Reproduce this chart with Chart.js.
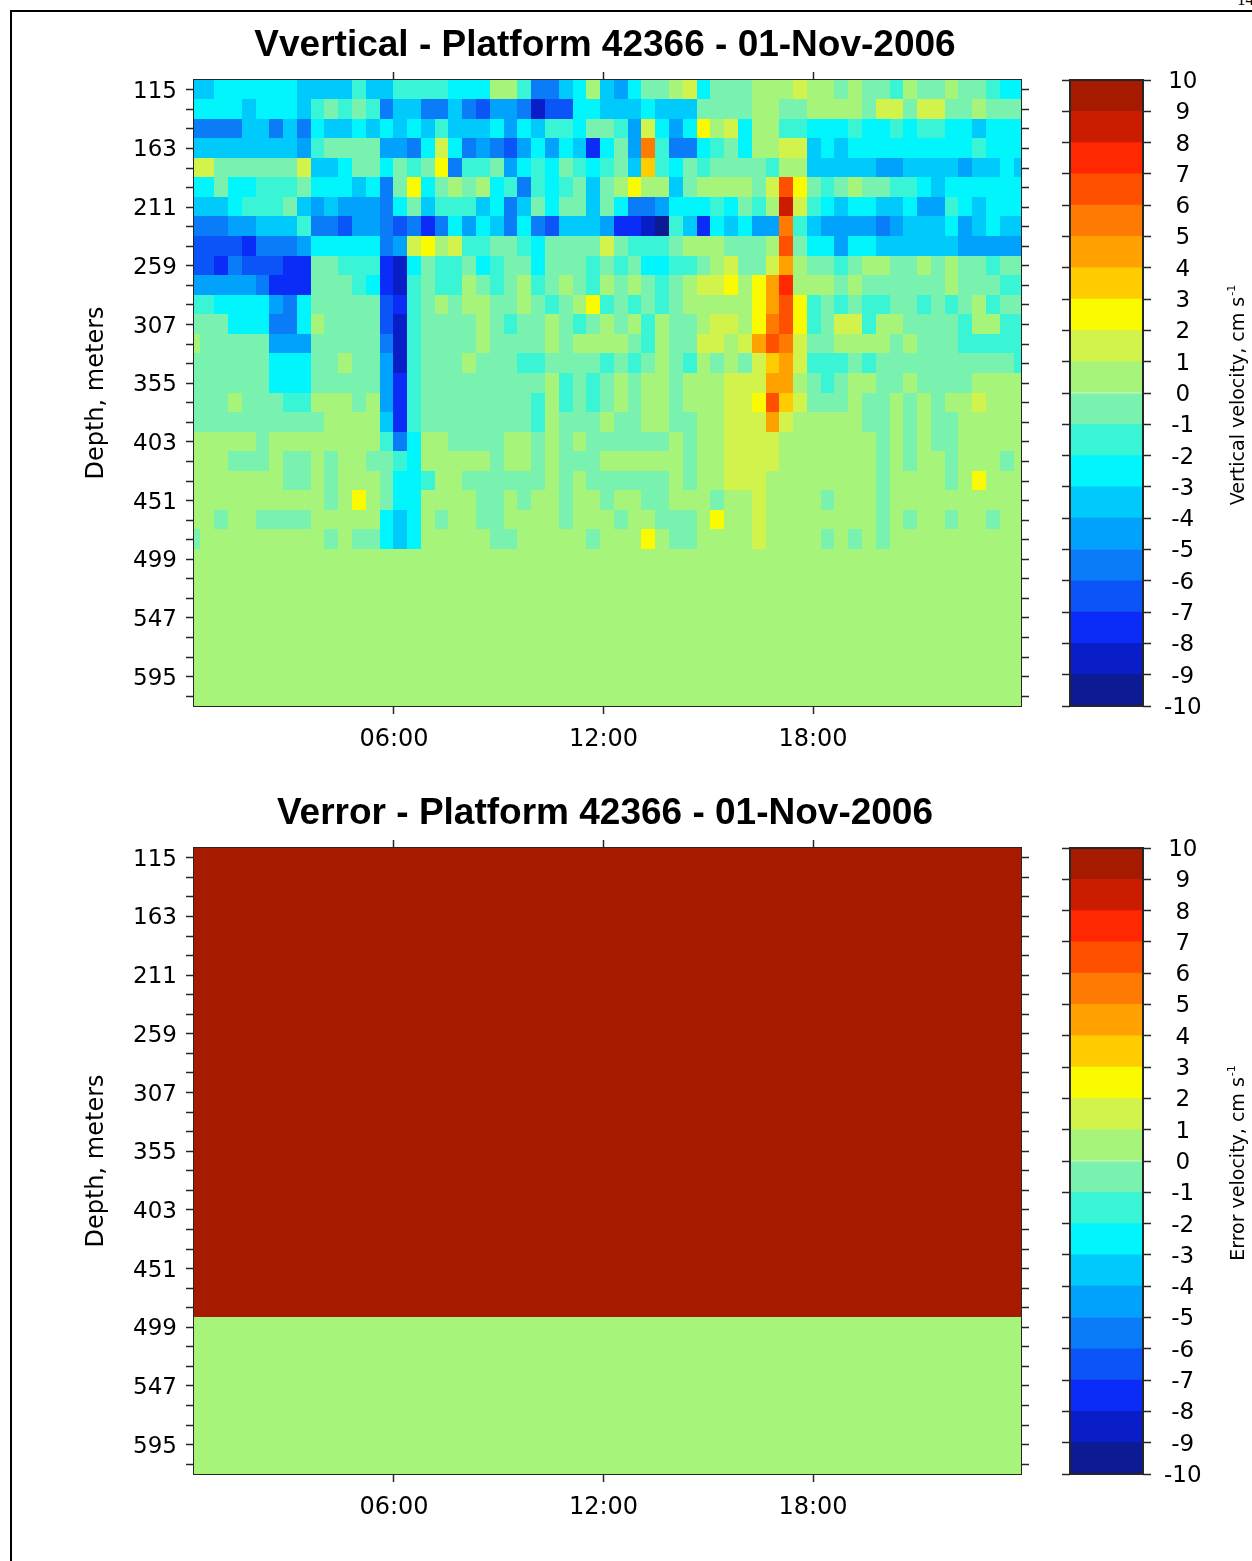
<!DOCTYPE html>
<html>
<head>
<meta charset="utf-8">
<title>Vvertical / Verror - Platform 42366 - 01-Nov-2006</title>
<script src="https://cdn.jsdelivr.net/npm/chart.js@4.4.1/dist/chart.umd.min.js"></script>
<style>
  body { margin: 0; background: #fff; }
  #page { position: relative; width: 1252px; height: 1561px; overflow: hidden; background: #fff; }
  #frame { position: absolute; left: 10px; top: 10px; width: 1400px; height: 1700px;
           border-left: 2px solid #000; border-top: 2px solid #000; }
  #pageNum { position: absolute; left: 1237px; top: -10px; font: 17px "Liberation Serif", serif; }
  canvas { position: absolute; }
</style>
</head>
<body>
<div id="page">
  <div id="frame"></div>
  <div id="pageNum">14</div>
  <canvas id="vverticalChart" width="1210" height="768" style="left:0;top:0"></canvas>
  <canvas id="vverticalBar" width="202" height="768" style="left:1050px;top:0"></canvas>
  <canvas id="verrorChart" width="1210" height="768" style="left:0;top:768px"></canvas>
  <canvas id="verrorBar" width="202" height="768" style="left:1050px;top:768px"></canvas>
</div>

<script>
// Depth bins (m), 16 m apart, and the labelled ticks
const depths = [115, 131, 147, 163, 179, 195, 211, 227, 243, 259, 275, 291, 307, 323, 339, 355,
                371, 387, 403, 419, 435, 451, 467, 483, 499, 515, 531, 547, 563, 579, 595, 611];
const depthTickLabels = [115, 163, 211, 259, 307, 355, 403, 451, 499, 547, 595];
const depthBin = 16;

// Time axis (hours of 01-Nov-2006)
const firstSampleHour = 0.273;
const sampleStepHours = 0.3947;
const timeTickHours = [6, 12, 18];
const timeTickLabels = ["06:00", "12:00", "18:00"];

// Colour scale: one colour per 1 cm/s band from -10 to 10
const levelMin = -10;
const levelTicks = [-10, -9, -8, -7, -6, -5, -4, -3, -2, -1, 0, 1, 2, 3, 4, 5, 6, 7, 8, 9, 10];
const levelColors = [
    "#0c1a94", "#0a1ec8", "#0a2cf6", "#0a54f8", "#0a7cf8",
    "#00a2fc", "#00cafc", "#00f6fc", "#3af4d6", "#78f2ae",
    "#a6f47a", "#d2f24c", "#fafa00", "#ffcc00", "#ffa200",
    "#ff7a00", "#ff5000", "#ff2800", "#cc1c00", "#a61a00"
];

// Vertical velocity (cm/s), one row per depth bin from 115 m to 483 m, 61 ensembles each
const vverticalRows = [
    // 115
    [-3.5,-3.5,-2.5,-2.5,-2.5,-2.5,-2.5,-2.5,-3.5,-3.5,-3.5,-3.5,-1.5,-3.5,-3.5,-1.5,-1.5,-1.5,-1.5,-2.5,
     -2.5,-2.5,0.5,0.5,-1.5,-5.5,-5.5,-3.5,-2.5,0.5,-3.5,-4.5,-2.5,-0.5,-0.5,0.5,1.5,-2.5,-0.5,-0.5,
     -0.5,0.5,0.5,0.5,1.5,0.5,0.5,-0.5,0.5,-0.5,-0.5,-1.5,0.5,-0.5,-0.5,0.5,-0.5,-0.5,-1.5,-2.5,-2.5],
    // 131
    [-2.5,-2.5,-2.5,-2.5,-3.5,-2.5,-2.5,-2.5,-3.5,-1.5,-0.5,-1.5,-0.5,-1.5,-5.5,-3.5,-3.5,-5.5,-5.5,-3.5,
     -5.5,-6.5,-4.5,-4.5,-5.5,-8.5,-6.5,-6.5,-2.5,-2.5,-3.5,-3.5,-3.5,-2.5,-3.5,-3.5,-3.5,-0.5,-0.5,-0.5,
     -0.5,0.5,0.5,-0.5,-0.5,0.5,0.5,0.5,0.5,-0.5,1.5,1.5,-0.5,1.5,1.5,-0.5,-0.5,0.5,-0.5,-0.5,-0.5],
    // 147
    [-5.5,-5.5,-5.5,-5.5,-3.5,-3.5,-5.5,-3.5,-5.5,-2.5,-3.5,-3.5,-2.5,-3.5,-2.5,-3.5,-2.5,-3.5,-1.5,-3.5,
     -3.5,-3.5,-2.5,-4.5,-2.5,-3.5,-1.5,-1.5,-2.5,-0.5,-0.5,-1.5,-4.5,1.5,-2.5,-4.5,-2.5,2.5,0.5,1.5,
     -2.5,0.5,0.5,-1.5,-1.5,-2.5,-2.5,-2.5,-1.5,-2.5,-2.5,-1.5,-2.5,-1.5,-1.5,-2.5,-2.5,-3.5,-2.5,-2.5,-2.5],
    // 163
    [-3.5,-3.5,-3.5,-3.5,-3.5,-3.5,-3.5,-3.5,-4.5,-1.5,-0.5,-0.5,-0.5,-0.5,-4.5,-4.5,-5.5,-2.5,1.5,-2.5,
     -5.5,-4.5,-5.5,-6.5,-4.5,-2.5,-4.5,-2.5,-3.5,-7.5,-2.5,-0.5,-4.5,5.5,-1.5,-5.5,-5.5,-2.5,-1.5,-0.5,
     -2.5,0.5,0.5,1.5,1.5,-3.5,-2.5,-3.5,-2.5,-2.5,-2.5,-2.5,-2.5,-2.5,-2.5,-2.5,-2.5,-1.5,-2.5,-2.5,-2.5],
    // 179
    [1.5,1.5,-0.5,-0.5,-0.5,-0.5,-0.5,-0.5,1.5,-3.5,-3.5,-2.5,-0.5,-0.5,-2.5,-0.5,-1.5,-0.5,2.5,-5.5,
     -1.5,-1.5,-0.5,-4.5,-2.5,-1.5,-2.5,-0.5,-1.5,-2.5,-1.5,-0.5,-3.5,3.5,-1.5,-2.5,-0.5,-1.5,-0.5,-0.5,
     -0.5,-0.5,-1.5,0.5,0.5,-3.5,-3.5,-3.5,-3.5,-3.5,-4.5,-4.5,-3.5,-3.5,-3.5,-3.5,-4.5,-3.5,-3.5,-2.5,-3.5],
    // 195
    [-2.5,-2.5,-0.5,-2.5,-2.5,-1.5,-1.5,-1.5,-0.5,-2.5,-2.5,-2.5,-3.5,-2.5,-5.5,-0.5,2.5,-2.5,-0.5,0.5,
     -0.5,0.5,-2.5,-1.5,-5.5,-1.5,-2.5,-1.5,-0.5,-3.5,-0.5,0.5,2.5,0.5,0.5,-3.5,-0.5,0.5,0.5,0.5,
     0.5,-0.5,1.5,6.5,2.5,-0.5,-1.5,-0.5,0.5,-0.5,-0.5,-1.5,-1.5,-2.5,-3.5,-2.5,-2.5,-2.5,-2.5,-2.5,-2.5],
    // 211
    [-3.5,-3.5,-3.5,-2.5,-1.5,-1.5,-1.5,-0.5,-3.5,-4.5,-3.5,-4.5,-4.5,-4.5,-5.5,-2.5,-0.5,-3.5,-1.5,-1.5,
     -1.5,-3.5,-2.5,-5.5,-3.5,-0.5,-2.5,-0.5,-0.5,-3.5,-0.5,-2.5,-5.5,-5.5,-4.5,-2.5,-2.5,-2.5,-1.5,-2.5,
     -0.5,-1.5,0.5,8.5,1.5,-1.5,-2.5,-3.5,-2.5,-2.5,-3.5,-3.5,-2.5,-4.5,-4.5,-1.5,-2.5,-3.5,-2.5,-2.5,-2.5],
    // 227
    [-5.5,-5.5,-5.5,-4.5,-4.5,-3.5,-3.5,-3.5,-1.5,-5.5,-5.5,-6.5,-4.5,-4.5,-5.5,-6.5,-5.5,-7.5,-5.5,-2.5,
     -4.5,-2.5,-3.5,-5.5,-2.5,-5.5,-6.5,-3.5,-3.5,-3.5,-4.5,-7.5,-7.5,-8.5,-9.5,-1.5,-3.5,-7.5,-2.5,-3.5,
     -2.5,-4.5,-4.5,5.5,-1.5,-3.5,-4.5,-4.5,-4.5,-4.5,-5.5,-4.5,-3.5,-3.5,-3.5,-2.5,-4.5,-3.5,-2.5,-3.5,-3.5],
    // 243
    [-6.5,-6.5,-6.5,-6.5,-7.5,-5.5,-5.5,-5.5,-4.5,-2.5,-2.5,-2.5,-2.5,-2.5,-5.5,-4.5,1.5,2.5,0.5,1.5,
     -1.5,-1.5,-0.5,-0.5,-1.5,-2.5,-0.5,-0.5,-0.5,-0.5,1.5,-0.5,-1.5,-1.5,-1.5,-0.5,0.5,0.5,0.5,-0.5,
     -0.5,-0.5,0.5,6.5,-0.5,-2.5,-2.5,-4.5,-2.5,-2.5,-3.5,-3.5,-3.5,-3.5,-3.5,-3.5,-4.5,-4.5,-4.5,-4.5,-4.5],
    // 259
    [-6.5,-6.5,-7.5,-5.5,-6.5,-6.5,-6.5,-7.5,-7.5,-0.5,-0.5,-1.5,-1.5,-1.5,-7.5,-8.5,-2.5,-0.5,-1.5,-1.5,
     -0.5,-2.5,-1.5,-0.5,-0.5,-2.5,-0.5,-0.5,-0.5,-1.5,-0.5,-1.5,-0.5,-2.5,-2.5,-1.5,-1.5,-0.5,0.5,1.5,
     -0.5,-0.5,1.5,4.5,0.5,-0.5,-0.5,-1.5,-0.5,0.5,0.5,-0.5,-0.5,0.5,-0.5,0.5,-0.5,-0.5,-1.5,-0.5,-0.5],
    // 275
    [-4.5,-4.5,-4.5,-4.5,-4.5,-5.5,-7.5,-7.5,-7.5,-0.5,-0.5,-0.5,-1.5,-2.5,-7.5,-8.5,-1.5,-0.5,-1.5,-1.5,
     0.5,-0.5,-1.5,-0.5,0.5,-1.5,-0.5,0.5,-0.5,-1.5,0.5,-0.5,0.5,-0.5,-1.5,-0.5,0.5,1.5,1.5,2.5,
     0.5,2.5,4.5,7.5,0.5,0.5,0.5,-0.5,0.5,-0.5,-0.5,-0.5,-0.5,-0.5,-0.5,0.5,-0.5,-0.5,-0.5,-1.5,-1.5],
    // 291
    [-1.5,-1.5,-2.5,-2.5,-2.5,-2.5,-4.5,-5.5,-2.5,-0.5,-0.5,-0.5,-0.5,-0.5,-6.5,-7.5,-1.5,-0.5,0.5,-0.5,
     0.5,0.5,-0.5,-0.5,0.5,-0.5,-1.5,-0.5,0.5,2.5,-1.5,-0.5,-1.5,-0.5,-1.5,-0.5,0.5,0.5,0.5,0.5,
     0.5,2.5,4.5,6.5,2.5,-1.5,-0.5,-1.5,-0.5,-1.5,-1.5,-0.5,-0.5,-1.5,-0.5,-1.5,-0.5,0.5,-1.5,-0.5,-0.5],
    // 307
    [-0.5,-0.5,-0.5,-2.5,-2.5,-2.5,-5.5,-5.5,-2.5,0.5,-0.5,-0.5,-0.5,-0.5,-6.5,-8.5,-1.5,-0.5,-0.5,-0.5,
     -0.5,0.5,-0.5,-1.5,-0.5,-0.5,0.5,-0.5,-1.5,-0.5,0.5,-0.5,0.5,-1.5,0.5,-0.5,-0.5,0.5,1.5,1.5,
     0.5,2.5,5.5,6.5,2.5,-1.5,-0.5,1.5,1.5,-1.5,0.5,0.5,-0.5,-0.5,-0.5,-0.5,-1.5,0.5,0.5,-1.5,-1.5],
    // 323
    [0.5,-0.5,-0.5,-0.5,-0.5,-0.5,-4.5,-4.5,-4.5,-0.5,-0.5,-0.5,-0.5,-0.5,-5.5,-8.5,-1.5,-0.5,-0.5,-0.5,
     -0.5,0.5,-0.5,-0.5,-0.5,-0.5,0.5,-0.5,0.5,0.5,0.5,0.5,-0.5,-1.5,0.5,-0.5,-0.5,1.5,1.5,0.5,
     1.5,4.5,6.5,5.5,1.5,-0.5,-0.5,0.5,0.5,0.5,0.5,-0.5,0.5,-0.5,-0.5,-0.5,-1.5,-1.5,-1.5,-1.5,-1.5],
    // 339
    [-0.5,-0.5,-0.5,-0.5,-0.5,-0.5,-2.5,-2.5,-2.5,-0.5,-0.5,0.5,-0.5,-0.5,-4.5,-8.5,-1.5,-0.5,-0.5,-0.5,
     0.5,-0.5,-0.5,-0.5,-1.5,-1.5,-0.5,-0.5,-0.5,-0.5,-1.5,-0.5,-1.5,-0.5,0.5,-0.5,-1.5,0.5,-0.5,0.5,
     -0.5,1.5,3.5,4.5,1.5,-1.5,-1.5,-1.5,-0.5,-1.5,-0.5,-0.5,-0.5,-0.5,-0.5,-0.5,-0.5,-0.5,-0.5,-0.5,-1.5],
    // 355
    [-0.5,-0.5,-0.5,-0.5,-0.5,-0.5,-2.5,-2.5,-2.5,-0.5,-0.5,-0.5,-0.5,-0.5,-4.5,-7.5,-1.5,-0.5,-0.5,-0.5,
     -0.5,-0.5,-0.5,-0.5,-0.5,-0.5,0.5,-1.5,-0.5,-1.5,-0.5,0.5,-0.5,0.5,0.5,-0.5,0.5,0.5,0.5,1.5,
     1.5,1.5,4.5,4.5,0.5,-0.5,-1.5,-0.5,0.5,0.5,-0.5,-0.5,0.5,-0.5,-0.5,-0.5,-0.5,0.5,0.5,0.5,0.5],
    // 371
    [-0.5,-0.5,-0.5,0.5,-0.5,-0.5,-0.5,-1.5,-1.5,0.5,0.5,0.5,-0.5,0.5,-4.5,-7.5,-1.5,-0.5,-0.5,-0.5,
     -0.5,-0.5,-0.5,-0.5,-0.5,-1.5,0.5,-1.5,-0.5,-1.5,-0.5,0.5,-0.5,0.5,0.5,-0.5,0.5,0.5,0.5,1.5,
     1.5,2.5,6.5,3.5,1.5,-0.5,-0.5,-0.5,0.5,-0.5,-0.5,0.5,-0.5,0.5,-0.5,0.5,0.5,1.5,0.5,0.5,0.5],
    // 387
    [-0.5,-0.5,-0.5,-0.5,-0.5,-0.5,-0.5,-0.5,-0.5,-0.5,0.5,0.5,0.5,0.5,-3.5,-7.5,-1.5,-0.5,-0.5,-0.5,
     -0.5,-0.5,-0.5,-0.5,-0.5,-1.5,0.5,-0.5,-0.5,-0.5,0.5,-0.5,-0.5,0.5,0.5,-0.5,-0.5,0.5,0.5,1.5,
     1.5,1.5,4.5,1.5,0.5,0.5,0.5,0.5,0.5,-0.5,-0.5,0.5,-0.5,0.5,-0.5,-0.5,0.5,0.5,0.5,0.5,0.5],
    // 403
    [0.5,0.5,0.5,0.5,0.5,-0.5,0.5,0.5,0.5,0.5,0.5,0.5,0.5,0.5,-1.5,-5.5,-2.5,0.5,0.5,-0.5,
     -0.5,-0.5,-0.5,0.5,0.5,-0.5,0.5,-0.5,0.5,-0.5,-0.5,-0.5,-0.5,-0.5,-0.5,0.5,-0.5,0.5,0.5,1.5,
     1.5,1.5,1.5,0.5,0.5,0.5,0.5,0.5,0.5,0.5,-0.5,0.5,-0.5,0.5,-0.5,-0.5,0.5,0.5,0.5,0.5,0.5],
    // 419
    [0.5,0.5,0.5,-0.5,-0.5,-0.5,0.5,-0.5,-0.5,0.5,-0.5,0.5,0.5,-0.5,-0.5,-1.5,-2.5,0.5,0.5,0.5,
     0.5,0.5,-0.5,0.5,0.5,-0.5,0.5,-0.5,-0.5,-0.5,0.5,0.5,0.5,0.5,0.5,0.5,-0.5,0.5,0.5,1.5,
     1.5,1.5,1.5,0.5,0.5,0.5,0.5,0.5,0.5,0.5,-0.5,0.5,-0.5,0.5,0.5,-0.5,0.5,0.5,0.5,-0.5,0.5],
    // 435
    [0.5,0.5,0.5,0.5,0.5,0.5,0.5,-0.5,-0.5,0.5,-0.5,0.5,0.5,0.5,-0.5,-2.5,-2.5,-1.5,0.5,0.5,
     -0.5,-0.5,-0.5,-0.5,-0.5,-0.5,0.5,-0.5,0.5,-0.5,-0.5,-0.5,-0.5,-0.5,-0.5,0.5,-0.5,0.5,0.5,1.5,
     1.5,1.5,0.5,0.5,0.5,0.5,0.5,0.5,0.5,0.5,-0.5,0.5,0.5,0.5,0.5,-0.5,0.5,2.5,0.5,0.5,0.5],
    // 451
    [0.5,0.5,0.5,0.5,0.5,0.5,0.5,0.5,0.5,0.5,-0.5,0.5,2.5,0.5,-0.5,-2.5,-2.5,0.5,0.5,0.5,
     0.5,-0.5,-0.5,0.5,-0.5,0.5,0.5,-0.5,0.5,0.5,-0.5,0.5,0.5,-0.5,-0.5,0.5,0.5,0.5,-0.5,0.5,
     0.5,1.5,0.5,0.5,0.5,0.5,-0.5,0.5,0.5,0.5,-0.5,0.5,0.5,0.5,0.5,0.5,0.5,0.5,0.5,0.5,0.5],
    // 467
    [0.5,0.5,-0.5,0.5,0.5,-0.5,-0.5,-0.5,-0.5,0.5,0.5,0.5,0.5,0.5,-2.5,-3.5,-2.5,0.5,-0.5,0.5,
     0.5,-0.5,-0.5,0.5,0.5,0.5,0.5,-0.5,0.5,0.5,0.5,-0.5,0.5,0.5,-0.5,-0.5,-0.5,0.5,2.5,0.5,
     0.5,1.5,0.5,0.5,0.5,0.5,0.5,0.5,0.5,0.5,-0.5,0.5,-0.5,0.5,0.5,-0.5,0.5,0.5,-0.5,0.5,0.5],
    // 483
    [-0.5,0.5,0.5,0.5,0.5,0.5,0.5,0.5,0.5,0.5,-0.5,0.5,-0.5,-0.5,-2.5,-3.5,-2.5,0.5,0.5,0.5,
     0.5,0.5,-0.5,-0.5,0.5,0.5,0.5,0.5,0.5,-0.5,0.5,0.5,0.5,2.5,0.5,-0.5,-0.5,0.5,0.5,0.5,
     0.5,1.5,0.5,0.5,0.5,0.5,-0.5,0.5,-0.5,0.5,-0.5,0.5,0.5,0.5,0.5,0.5,0.5,0.5,0.5,0.5,0.5]
];

// Error velocity: every valid bin is at or above the top of the scale
const lastValidDepth = 483;
const verrorSaturated = 10;
// Bins below the last valid depth are drawn in the 0..1 colour in both panels
const belowRangeValue = 0.5;

const times = vverticalRows[0].map((_, k) => firstSampleHour + k * sampleStepHours);

const vverticalGrid = depths.map((d, r) =>
    d <= lastValidDepth ? vverticalRows[r] : times.map(() => belowRangeValue));
const verrorGrid = depths.map(d =>
    times.map(() => (d <= lastValidDepth ? verrorSaturated : belowRangeValue)));

const TEXT_FONT = "'DejaVu Sans', sans-serif";
const TITLE_FONT = "'Liberation Sans', Arial, sans-serif";
const AXIS_COLOR = "#262626";

function levelColor(v) {
    const i = Math.min(levelColors.length - 1, Math.max(0, Math.floor(v - levelMin)));
    return levelColors[i];
}

// Draws the gridded cells through the chart's own x and y scales
function heatmapLayer(grid) {
    return {
        id: "heatmapLayer",
        beforeDatasetsDraw(chart) {
            const { ctx, chartArea: area, scales: { x, y } } = chart;
            ctx.save();
            ctx.beginPath();
            ctx.rect(area.left, area.top, area.right - area.left, area.bottom - area.top);
            ctx.clip();
            grid.forEach((row, r) => {
                const top = Math.floor(y.getPixelForValue(depths[r] - depthBin / 2));
                const bottom = Math.ceil(y.getPixelForValue(depths[r] + depthBin / 2));
                row.forEach((v, k) => {
                    const left = Math.floor(x.getPixelForValue(times[k] - sampleStepHours / 2));
                    const right = Math.ceil(x.getPixelForValue(times[k] + sampleStepHours / 2));
                    ctx.fillStyle = levelColor(v);
                    ctx.fillRect(left, top, right - left, bottom - top);
                });
            });
            ctx.restore();
        }
    };
}

function tickGrid() {
    return { drawOnChartArea: false, drawTicks: true, tickLength: 8, tickColor: AXIS_COLOR, tickWidth: 1.5 };
}

function panelChart(canvasId, title, grid) {
    const xMin = times[0];
    const xMax = times[times.length - 1];
    const yMin = depths[0] - depthBin / 2;
    const yMax = depths[depths.length - 1] + depthBin / 2;
    const border = { display: true, color: AXIS_COLOR, width: 2 };

    return new Chart(document.getElementById(canvasId), {
        type: "scatter",
        data: { datasets: [] },
        plugins: [heatmapLayer(grid)],
        options: {
            responsive: false,
            animation: false,
            devicePixelRatio: 1,
            layout: { padding: 0 },
            plugins: {
                legend: { display: false },
                tooltip: { enabled: false },
                title: {
                    display: true,
                    text: title,
                    color: "#000",
                    font: { family: TITLE_FONT, size: 37, weight: "bold", lineHeight: 1 },
                    padding: { top: 27, bottom: 0 }
                }
            },
            scales: {
                x: {
                    type: "linear", axis: "x", position: "bottom", min: xMin, max: xMax, z: 1,
                    afterBuildTicks: s => { s.ticks = timeTickHours.map(v => ({ value: v })); },
                    afterFit: s => { s.height = 62; },
                    ticks: {
                        autoSkip: false, maxRotation: 0, minRotation: 0, padding: 11,
                        color: "#000", font: { family: TEXT_FONT, size: 24 },
                        callback: (v, i) => timeTickLabels[i]
                    },
                    grid: tickGrid(), border
                },
                xTop: {
                    type: "linear", axis: "x", position: "top", min: xMin, max: xMax, z: 1,
                    afterBuildTicks: s => { s.ticks = timeTickHours.map(v => ({ value: v })); },
                    afterFit: s => { s.height = 16; },
                    ticks: { autoSkip: false, maxRotation: 0, callback: () => "" },
                    grid: tickGrid(), border
                },
                y: {
                    type: "linear", axis: "y", position: "left", reverse: true, min: yMin, max: yMax, z: 1,
                    afterBuildTicks: s => { s.ticks = depths.map(v => ({ value: v })); },
                    afterFit: s => { s.width = 194; },
                    ticks: {
                        autoSkip: false, padding: 9, labelOffset: 2, color: "#000",
                        font: { family: TEXT_FONT, size: 23 },
                        callback: v => (depthTickLabels.includes(v) ? String(v) : "")
                    },
                    title: {
                        display: true, text: "Depth, meters", color: "#000",
                        font: { family: TEXT_FONT, size: 24 },
                        padding: { top: 82, bottom: 0 }
                    },
                    grid: tickGrid(), border
                },
                yRight: {
                    type: "linear", axis: "y", position: "right", reverse: true, min: yMin, max: yMax, z: 1,
                    afterBuildTicks: s => { s.ticks = depths.map(v => ({ value: v })); },
                    afterFit: s => { s.width = 189; },
                    ticks: { autoSkip: false, callback: () => "" },
                    grid: tickGrid(), border
                }
            }
        }
    });
}

// Rotated colour-bar label with the s^-1 superscript
function barLabel(text) {
    return {
        id: "barLabel",
        afterDraw(chart) {
            const ctx = chart.ctx;
            ctx.save();
            ctx.translate(194, 395);
            ctx.rotate(-Math.PI / 2);
            ctx.fillStyle = "#000";
            ctx.textAlign = "left";
            ctx.textBaseline = "alphabetic";
            ctx.font = "19px " + TEXT_FONT;
            const w = ctx.measureText(text).width;
            ctx.font = "11px " + TEXT_FONT;
            const ws = ctx.measureText("-1").width;
            const x0 = -(w + ws + 1) / 2;
            ctx.font = "19px " + TEXT_FONT;
            ctx.fillText(text, x0, 0);
            ctx.font = "11px " + TEXT_FONT;
            ctx.fillText("-1", x0 + w + 1, -9);
            ctx.restore();
        }
    };
}

const barFrame = {
    id: "barFrame",
    afterDraw(chart) {
        const { ctx, chartArea: a } = chart;
        ctx.save();
        ctx.strokeStyle = AXIS_COLOR;
        ctx.lineWidth = 2;
        ctx.strokeRect(a.left, a.top, a.right - a.left, a.bottom - a.top);
        ctx.restore();
    }
};

function colorBar(canvasId, label) {
    const bands = levelColors.map((c, i) => ({
        data: [[levelMin + i, levelMin + i + 1]],
        backgroundColor: c,
        borderWidth: 0,
        barPercentage: 1,
        categoryPercentage: 1,
        grouped: false
    }));
    return new Chart(document.getElementById(canvasId), {
        type: "bar",
        data: { labels: [""], datasets: bands },
        plugins: [barFrame, barLabel(label)],
        options: {
            responsive: false,
            animation: false,
            devicePixelRatio: 1,
            layout: { padding: { top: 80, bottom: 62, left: 0, right: 0 } },
            plugins: { legend: { display: false }, tooltip: { enabled: false } },
            scales: {
                x: { display: false },
                y: {
                    type: "linear", position: "right", min: -10, max: 10, z: 1,
                    afterBuildTicks: s => { s.ticks = levelTicks.map(v => ({ value: v })); },
                    afterFit: s => { s.width = 109; },
                    ticks: {
                        autoSkip: false, padding: 13, labelOffset: 2, crossAlign: "center", color: "#000",
                        font: { family: TEXT_FONT, size: 23 },
                        callback: v => String(v)
                    },
                    grid: tickGrid(),
                    border: { display: false }
                },
                yLeft: {
                    type: "linear", axis: "y", position: "left", min: -10, max: 10, z: 1,
                    afterBuildTicks: s => { s.ticks = levelTicks.map(v => ({ value: v })); },
                    afterFit: s => { s.width = 20; },
                    ticks: { autoSkip: false, callback: () => "" },
                    grid: tickGrid(),
                    border: { display: false }
                }
            }
        }
    });
}

panelChart("vverticalChart", "Vvertical - Platform 42366 - 01-Nov-2006", vverticalGrid);
colorBar("vverticalBar", "Vertical velocity, cm s");
panelChart("verrorChart", "Verror - Platform 42366 - 01-Nov-2006", verrorGrid);
colorBar("verrorBar", "Error velocity, cm s");
</script>
</body>
</html>
